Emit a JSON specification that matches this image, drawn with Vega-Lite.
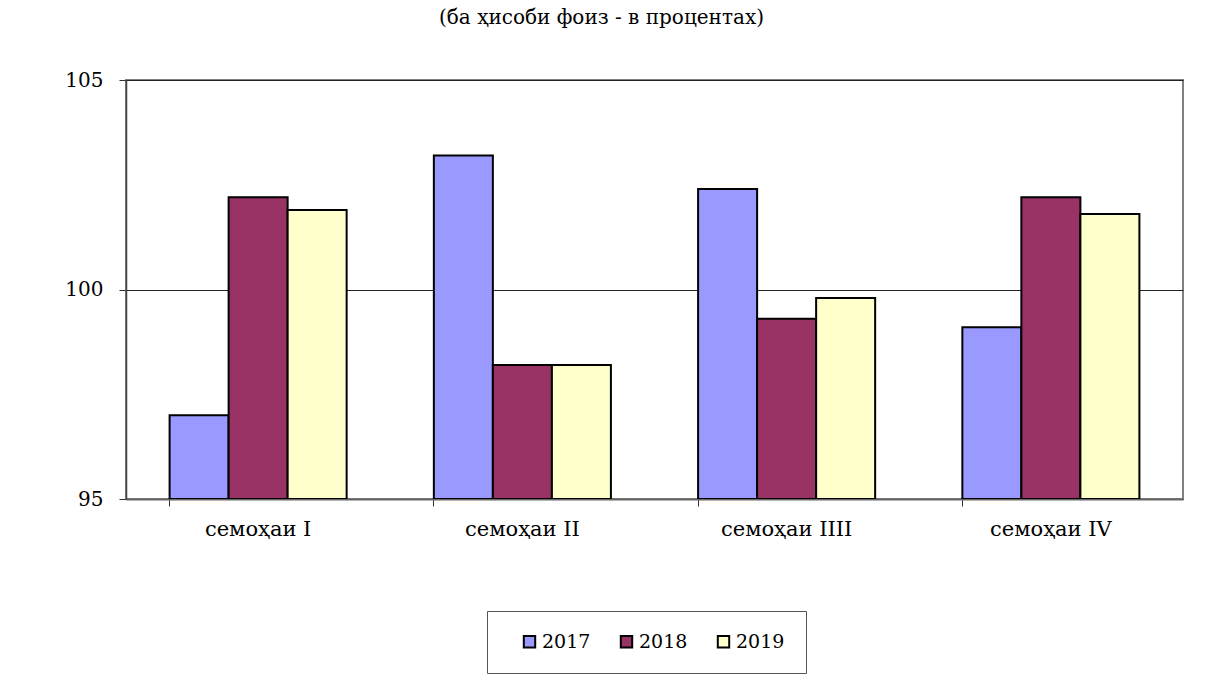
{
  "$schema": "https://vega.github.io/schema/vega-lite/v6.json",
  "autosize": "none",
  "width": 1057,
  "height": 419,
  "padding": {"left": 126, "top": 80, "right": 22, "bottom": 185},
  "background": "white",
  "title": {
    "text": "(ба ҳисоби фоиз - в процентах)",
    "font": "DejaVu Serif",
    "fontSize": 20,
    "fontWeight": "normal",
    "color": "black",
    "anchor": "middle",
    "baseline": "bottom",
    "offset": 22,
    "dx": -53
  },
  "data": {
    "values": [
      {"quarter": "семоҳаи I", "year": "2017", "value": 97.0},
      {"quarter": "семоҳаи I", "year": "2018", "value": 102.2},
      {"quarter": "семоҳаи I", "year": "2019", "value": 101.9},
      {"quarter": "семоҳаи II", "year": "2017", "value": 103.2},
      {"quarter": "семоҳаи II", "year": "2018", "value": 98.2},
      {"quarter": "семоҳаи II", "year": "2019", "value": 98.2},
      {"quarter": "семоҳаи IIII", "year": "2017", "value": 102.4},
      {"quarter": "семоҳаи IIII", "year": "2018", "value": 99.3},
      {"quarter": "семоҳаи IIII", "year": "2019", "value": 99.8},
      {"quarter": "семоҳаи IV", "year": "2017", "value": 99.1},
      {"quarter": "семоҳаи IV", "year": "2018", "value": 102.2},
      {"quarter": "семоҳаи IV", "year": "2019", "value": 101.8}
    ]
  },
  "mark": {"type": "bar", "stroke": "black", "strokeWidth": 2, "clip": true},
  "encoding": {
    "x": {
      "field": "quarter",
      "type": "nominal",
      "sort": null,
      "scale": {"paddingInner": 0.33, "paddingOuter": 0.165},
      "axis": {
        "title": null,
        "labelAngle": 0,
        "labelFont": "DejaVu Serif",
        "labelFontSize": 21,
        "labelColor": "black",
        "labelPadding": 12,
        "bandPosition": 0,
        "ticks": true,
        "tickSize": 7,
        "tickColor": "#333",
        "domainColor": "#666",
        "domainWidth": 2,
        "grid": false
      }
    },
    "xOffset": {"field": "year", "type": "nominal", "scale": {"paddingInner": 0, "paddingOuter": 0}},
    "y": {
      "field": "value",
      "type": "quantitative",
      "scale": {"domain": [95, 105], "zero": false, "nice": false},
      "axis": {
        "title": null,
        "values": [95, 100, 105],
        "labelFont": "DejaVu Serif",
        "labelFontSize": 20,
        "labelColor": "black",
        "labelPadding": 16,
        "tickSize": 7,
        "tickColor": "#333",
        "domainColor": "#444",
        "domainWidth": 1.5,
        "grid": true,
        "gridColor": "#222",
        "gridWidth": 1
      }
    },
    "y2": {"datum": 95},
    "color": {
      "field": "year",
      "type": "nominal",
      "scale": {"domain": ["2017", "2018", "2019"], "range": ["#9999FF", "#993366", "#FFFFCC"]},
      "legend": {
        "title": null,
        "orient": "none",
        "direction": "horizontal",
        "legendX": 361,
        "legendY": 531,
        "symbolType": "square",
        "symbolSize": 130,
        "symbolStrokeColor": "black",
        "symbolStrokeWidth": 2,
        "labelFont": "DejaVu Serif",
        "labelFontSize": 19,
        "labelColor": "black",
        "labelOffset": 3,
        "columnPadding": 14,
        "strokeColor": "#555",
        "padding": 21,
        "fillColor": "white",
        "symbolOffset": 12
      }
    }
  },
  "config": {
    "font": "DejaVu Serif",
    "view": {"stroke": "#808080", "strokeWidth": 2}
  }
}
